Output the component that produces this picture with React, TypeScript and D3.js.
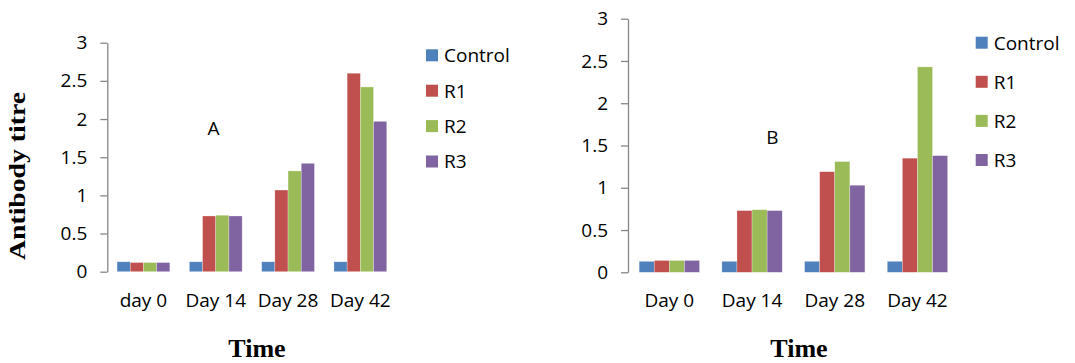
import React, { useRef, useEffect } from "react";
import * as d3 from "d3";

// chart values
const seriesNames = ["Control", "R1", "R2", "R3"];
const seriesColors = ["#4F81BD", "#C0504D", "#9BBB59", "#8064A2"];
const yTicks = [0, 0.5, 1, 1.5, 2, 2.5, 3];

const categoriesA = ["day 0", "Day 14", "Day 28", "Day 42"];
const controlA = [0.13, 0.13, 0.13, 0.13];
const r1A = [0.12, 0.73, 1.07, 2.6];
const r2A = [0.12, 0.74, 1.32, 2.42];
const r3A = [0.12, 0.73, 1.42, 1.97];

const categoriesB = ["Day 0", "Day 14", "Day 28", "Day 42"];
const controlB = [0.13, 0.13, 0.13, 0.13];
const r1B = [0.14, 0.73, 1.19, 1.35];
const r2B = [0.14, 0.74, 1.31, 2.43];
const r3B = [0.14, 0.73, 1.03, 1.38];

const FONT = "'Open Sans', sans-serif";
const SERIF = "'Liberation Serif', 'Times New Roman', serif";

function drawPanel(svg, p) {
  const g = svg.append("g");
  const x = d3.scaleBand()
    .domain(p.categories)
    .range([p.left, p.right])
    .paddingInner(0.27)
    .paddingOuter(0.135);
  const xs = d3.scaleBand().domain(seriesNames).range([0, x.bandwidth()]);
  const y = d3.scaleLinear().domain([0, 3]).range([p.bottom, p.top]);

  const rows = p.categories.map((c, i) => ({
    cat: c,
    vals: p.series.map((s, j) => ({ name: seriesNames[j], v: s[i], color: seriesColors[j] })),
  }));

  // bars
  g.selectAll(".grp")
    .data(rows)
    .enter()
    .append("g")
    .attr("transform", d => `translate(${x(d.cat)},0)`)
    .selectAll("rect")
    .data(d => d.vals)
    .enter()
    .append("rect")
    .attr("x", d => xs(d.name))
    .attr("y", d => y(d.v))
    .attr("width", xs.bandwidth())
    .attr("height", d => p.bottom - y(d.v))
    .style("fill", d => d.color)
    .style("stroke", "rgba(255,255,255,0.45)")
    .style("stroke-width", 0.6);

  // y axis
  const axis = g.append("g")
    .attr("transform", `translate(${p.left},0)`)
    .call(d3.axisLeft(y).tickValues(yTicks).tickSize(7).tickPadding(13).tickSizeOuter(0).tickFormat(d => String(d)));
  axis.select(".domain").attr("stroke", "#868686").attr("stroke-width", 1.3);
  axis.selectAll(".tick line").attr("stroke", "#868686").attr("stroke-width", 1.3);
  axis.selectAll(".tick text")
    .attr("fill", "#000")
    .style("font-family", FONT)
    .style("font-size", "19px");

  // category labels (no baseline drawn)
  g.selectAll(".xl")
    .data(p.categories)
    .enter()
    .append("text")
    .attr("x", d => x(d) + x.bandwidth() / 2)
    .attr("y", 306.5)
    .attr("text-anchor", "middle")
    .style("font-family", FONT)
    .style("font-size", "19px")
    .text(d => d);

  // legend
  const leg = g.selectAll(".leg")
    .data(seriesNames)
    .enter()
    .append("g")
    .attr("transform", (d, i) => `translate(${p.legX},${p.legY + i * p.legStep})`);
  leg.append("rect")
    .attr("x", 0).attr("y", -6).attr("width", 12).attr("height", 12)
    .style("fill", (d, i) => seriesColors[i]);
  leg.append("text")
    .attr("x", 18)
    .attr("y", 6.8)
    .style("font-family", FONT)
    .style("font-size", "19px")
    .text(d => d);

  // panel letter
  g.append("text")
    .attr("x", p.tagX).attr("y", p.tagY)
    .attr("text-anchor", "middle")
    .style("font-family", FONT)
    .style("font-size", "19px")
    .text(p.tag);

  // x title
  g.append("text")
    .attr("x", p.timeX).attr("y", 357)
    .attr("text-anchor", "middle")
    .style("font-family", SERIF)
    .style("font-weight", "bold")
    .style("font-size", "26px")
    .text("Time");
}

export default function App() {
  const svgRef = useRef(null);

  useEffect(() => {
    const svg = d3.select(svgRef.current);
    svg.selectAll("*").remove();
    svg.append("rect").attr("width", 1075).attr("height", 363).style("fill", "#fff");

    drawPanel(svg, {
      categories: categoriesA,
      series: [controlA, r1A, r2A, r3A],
      left: 107.3, right: 396.5, top: 42.7, bottom: 271.7,
      legX: 426, legY: 55.3, legStep: 35.4,
      tag: "A", tagX: 213.5, tagY: 135,
      timeX: 257,
    });
    drawPanel(svg, {
      categories: categoriesB,
      series: [controlB, r1B, r2B, r3B],
      left: 628, right: 958.8, top: 18.7, bottom: 272.3,
      legX: 975.7, legY: 42.7, legStep: 39.1,
      tag: "B", tagX: 772.5, tagY: 144,
      timeX: 799,
    });

    svg.append("text")
      .attr("transform", "translate(25,176) rotate(-90)")
      .attr("text-anchor", "middle")
      .attr("textLength", 168)
      .attr("lengthAdjust", "spacingAndGlyphs")
      .style("font-family", SERIF)
      .style("font-weight", "bold")
      .style("font-size", "24px")
      .text("Antibody titre");
  }, []);

  return (
    <svg
      ref={svgRef}
      width={1075}
      height={363}
      style={{ position: "absolute", left: 0, top: 0 }}
    />
  );
}
